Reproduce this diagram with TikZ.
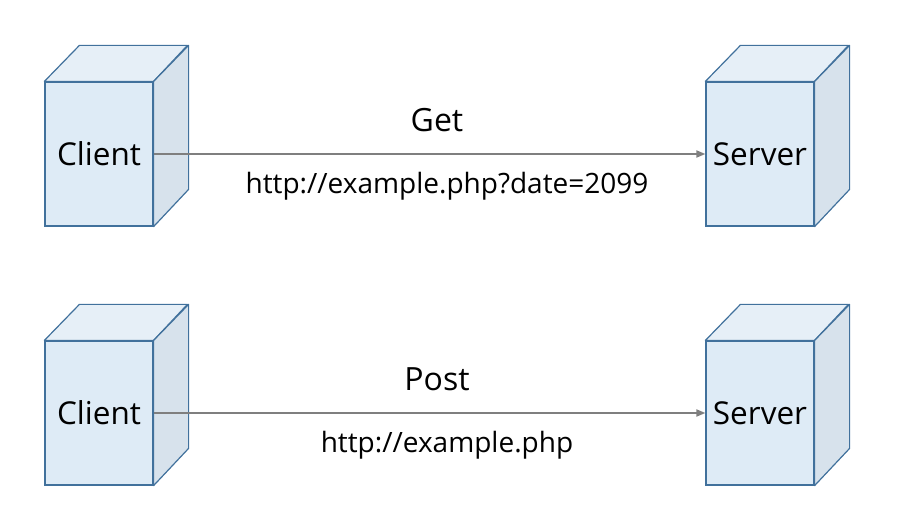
\documentclass[tikz,border=0pt]{standalone}
\usepackage{fontspec}
\setmainfont{Open Sans}
\usetikzlibrary{arrows.meta,positioning}
\definecolor{boxline}{HTML}{41719C}
\definecolor{boxfront}{HTML}{DEEBF6}
\definecolor{boxtop}{HTML}{E6EFF7}
\definecolor{boxside}{HTML}{D7E2EC}
\definecolor{arrowgray}{HTML}{7F7F7F}
\tikzset{
    box/.style={draw=boxline, fill=boxfront, line width=1.2pt,
        minimum width=108pt, minimum height=144pt, inner sep=0pt,
        font=\fontsize{31.5}{36}\selectfont},
    face/.style={draw=boxline, line width=1.2pt, line join=round},
    msg/.style={draw=arrowgray, line width=1.8pt,
        -{Triangle[length=9pt,width=7pt]}},
    method/.style={font=\fontsize{32}{38}\selectfont},
    url/.style={font=\fontsize{28}{33}\selectfont}
}
\newcommand{\cubefaces}[1]{%
    \draw[face, fill=boxtop] (#1.north west) -- ++(35,36) -- ++(108,0)
        -- (#1.north east) -- cycle;
    \draw[face, fill=boxside] (#1.north east) -- ++(35,36) -- ++(0,-144)
        -- (#1.south east) -- cycle;
}
\begin{document}
\begin{tikzpicture}[x=1pt, y=1pt]
    \useasboundingbox (0,0) rectangle (904,522);

    % Get
    \node[box] (client1) at (99,368) {Client};
    \node[box] (server1) at (760,368) {Server};
    \cubefaces{client1}
    \cubefaces{server1}
    \draw[msg] (client1.east) -- (server1.west);
    \node[method] (get) at (437,402) {Get};
    \node[url] (geturl) at (447,336) {http://example.php?date=2099};

    % Post
    \node[box] (client2) at (99,109) {Client};
    \node[box] (server2) at (760,109) {Server};
    \cubefaces{client2}
    \cubefaces{server2}
    \draw[msg] (client2.east) -- (server2.west);
    \node[method] (post) at (437,143) {Post};
    \node[url] (posturl) at (447,77) {http://example.php};
\end{tikzpicture}
\end{document}
